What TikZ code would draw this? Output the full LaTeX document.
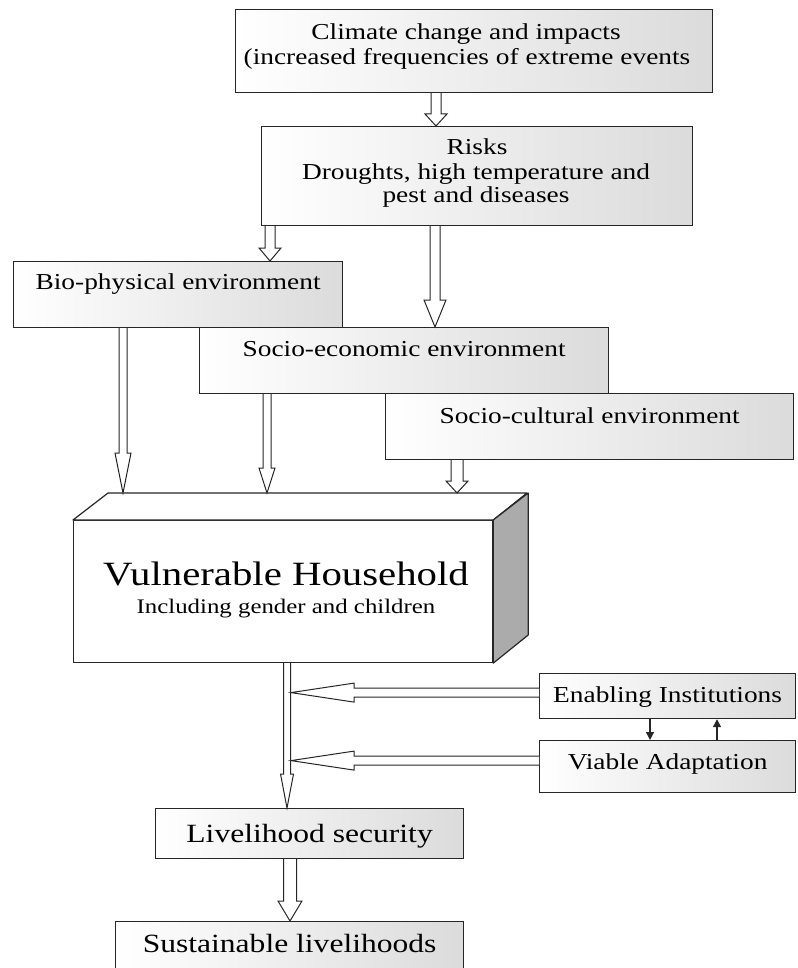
\documentclass[tikz,border=0pt]{standalone}
\usepackage{fontspec}
\setmainfont{Liberation Serif}[FakeStretch=1.2]
\usetikzlibrary{calc,arrows.meta}
\tikzset{
  box/.style={draw=black!85, line width=1.2pt, left color=white, right color=black!14,
    inner sep=0pt, anchor=north west, font=\fontsize{22.8}{25}\selectfont},
  txt/.style={anchor=base, inner sep=0pt, font=\fontsize{22.8}{25}\selectfont},
  hollow/.style={draw=black!85, line width=1pt, fill=white, line join=miter},
  thin arrow/.style={draw=black!85, line width=1.3pt, -{Triangle[length=8pt,width=8pt]}},
}
% vertical hollow arrow: start, tip, shaft half-width, head half-width, head length
\newcommand{\darr}[5]{%
  \draw[hollow] ($(#1)+(-#3,0)$) -- ($(#2)+(-#3,-#5)$) -- ($(#2)+(-#4,-#5)$) -- (#2)
    -- ($(#2)+(#4,-#5)$) -- ($(#2)+(#3,-#5)$) -- ($(#1)+(#3,0)$);}
% leftward hollow arrow
\newcommand{\larr}[5]{%
  \draw[hollow] ($(#1)+(0,-#3)$) -- ($(#2)+(#5,-#3)$) -- ($(#2)+(#5,-#4)$) -- (#2)
    -- ($(#2)+(#5,#4)$) -- ($(#2)+(#5,#3)$) -- ($(#1)+(0,#3)$);}
\begin{document}
\begin{tikzpicture}[x=1pt,y=-1pt]
\useasboundingbox (0,0) rectangle (797,968);

% columns
\coordinate (x436) at (436,0);
\coordinate (x270) at (270,0);
\coordinate (x435) at (435,0);
\coordinate (x123) at (123,0);
\coordinate (x267) at (267,0);
\coordinate (x457) at (457,0);
\coordinate (x287) at (287,0);
\coordinate (x291) at (291,0);
\coordinate (x290) at (290,0);
\coordinate (x650) at (650,0);
\coordinate (x717) at (717,0);

% boxes
\node[box, minimum width=477pt, minimum height=83pt] (climate) at (235,9) {};
\node[txt] (climate1) at (466,40) {Climate change and impacts};
\node[txt] (climate2) at (467,65) {(increased frequencies of extreme events};

\node[box, minimum width=431pt, minimum height=99pt] (risks) at (261,126) {};
\node[txt] (risks1) at (477,155) {Risks};
\node[txt] (risks2) at (476,180) {Droughts, high temperature and};
\node[txt] (risks3) at (476,203) {pest and diseases};

\node[box, minimum width=329pt, text height=28pt, text depth=38pt] (bio) at (13,261) {Bio-physical environment};
\node[box, minimum width=409pt, text height=29pt, text depth=37pt] (se) at (199,327) {Socio-economic environment};
\node[box, minimum width=408pt, text height=30pt, text depth=36pt] (sc) at (385,393) {Socio-cultural environment};

% household block
\node[draw=black!85, line width=1.2pt, fill=white, inner sep=0pt, anchor=north west,
  minimum width=419pt, minimum height=142pt] (hh) at (73,520) {};
\coordinate (hhback) at ($(hh.north west)+(35,-27)$);
\filldraw[draw=black!85, line width=1.2pt, fill=white, line join=round]
  (hh.north west) -- (hhback) -- ++(419,0) -- (hh.north east) -- cycle;
\filldraw[draw=black!85, line width=1.2pt, fill=black!33, line join=round]
  (hh.north east) -- ++(35,-27) -- ++(0,142) -- (hh.south east) -- cycle;
\node[txt, font=\fontsize{34}{36}\selectfont] (hh1) at (286,585) {Vulnerable Household};
\node[txt, font=\fontsize{20.7}{24}\selectfont] (hh2) at (286,613) {Including gender and children};

\node[box, minimum width=256pt, text height=29pt, text depth=16pt] (enab) at (539,673) {Enabling Institutions};
\node[box, minimum width=256pt, text height=29pt, text depth=23pt] (via) at (539,740) {Viable Adaptation};

\node[box, minimum width=308pt, text height=34pt, text depth=16pt,
  font=\fontsize{26.3}{28}\selectfont] (lh) at (155,808) {Livelihood security};
\node[box, minimum width=348pt, text height=31pt, text depth=23pt,
  font=\fontsize{26.3}{28}\selectfont] (sl) at (115,921) {Sustainable livelihoods};

% hollow arrows
\darr{climate.south -| x436}{risks.north -| x436}{5}{11}{12}
\darr{risks.south -| x270}{bio.north -| x270}{5}{11}{13}
\darr{risks.south -| x435}{se.north -| x435}{5}{11}{27}
\darr{bio.south -| x123}{hhback -| x123}{4}{8}{40}
\darr{se.south -| x267}{hhback -| x267}{4}{8}{25}
\darr{sc.south -| x457}{hhback -| x457}{6}{11}{12}
\darr{hh.south -| x287}{lh.north -| x287}{3.5}{6.5}{34}
\darr{lh.south -| x290}{sl.north -| x290}{6.5}{12}{20}

\coordinate (e1) at ($(enab.west)+(0,-3.5)$);
\coordinate (e1t) at (x291 |- e1);
\coordinate (v1) at ($(via.west)+(0,-6)$);
\coordinate (v1t) at (x291 |- v1);
\larr{e1}{e1t}{4.5}{9.5}{63}
\larr{v1}{v1t}{4.5}{9.5}{63}

% feedback arrows
\draw[thin arrow] (enab.south -| x650) -- (via.north -| x650);
\draw[thin arrow] (via.north -| x717) -- (enab.south -| x717);
\end{tikzpicture}
\end{document}
